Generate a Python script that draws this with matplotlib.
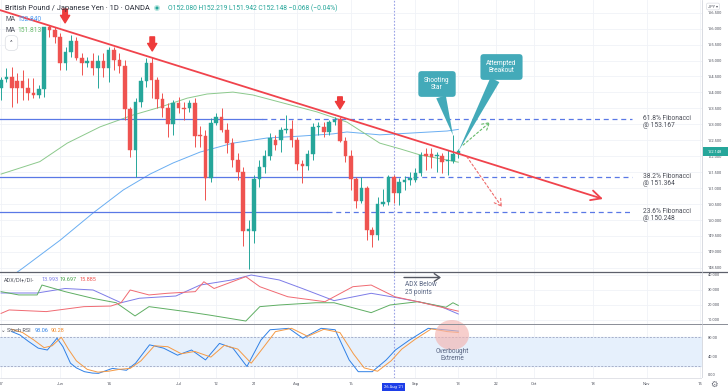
import matplotlib
matplotlib.use('Agg')
import matplotlib.pyplot as plt
import numpy as np
from matplotlib.patches import Rectangle, Ellipse

plt.rcParams['font.family'] = ['Roboto', 'DejaVu Sans']

# ---------------- data ----------------
opens = [154.13, 154.41, 154.49, 154.36, 154.36, 154.15, 153.97, 153.93, 154.11, 156.04,
         155.96, 155.75, 154.91, 155.28, 155.61, 155.09, 154.91, 154.98, 154.76, 154.98,
         154.76, 155.32, 155.02, 154.84, 153.47, 152.20, 153.71, 154.37, 154.91, 154.39,
         153.79, 153.52, 153.00, 153.66, 153.52, 153.50, 153.66, 152.64, 152.64, 151.33,
         153.05, 153.24, 152.82, 152.41, 151.88, 151.52, 149.67, 149.67, 151.28, 151.65,
         152.02, 152.51, 152.51, 152.82, 152.85, 152.51, 151.76, 151.70, 152.06, 152.91,
         152.93, 152.77, 153.06, 153.16, 152.49, 152.01, 151.28, 150.61, 150.99, 149.69,
         149.53, 150.50, 150.58, 151.36, 150.85, 151.20, 151.25, 151.25, 151.48, 152.04,
         152.07, 152.00, 152.01, 151.84, 151.85, 152.080]
highs = [154.49, 154.76, 154.81, 154.60, 154.70, 154.44, 154.44, 154.23, 156.06, 156.11,
         156.06, 155.85, 155.43, 155.80, 155.75, 155.23, 155.12, 155.23, 155.17, 155.23,
         155.43, 155.43, 155.23, 155.02, 153.55, 153.82, 154.49, 155.07, 155.12, 154.49,
         153.97, 153.66, 153.76, 153.87, 153.71, 153.76, 153.82, 152.95, 152.82, 153.19,
         153.35, 153.50, 153.03, 152.56, 152.09, 151.67, 150.00, 151.41, 151.88, 152.20,
         152.72, 152.67, 152.93, 153.30, 153.14, 152.61, 151.88, 152.20, 153.03, 153.08,
         153.08, 153.14, 153.24, 153.24, 152.61, 152.20, 151.36, 151.36, 151.07, 149.79,
         150.73, 150.96, 151.41, 151.41, 151.32, 151.38, 151.50, 151.63, 152.14, 152.26,
         152.25, 152.14, 152.11, 152.20, 152.66, 152.219]
lows = [153.76, 154.33, 153.53, 153.66, 153.76, 153.76, 153.82, 153.82, 153.87, 155.74,
        155.54, 154.70, 154.70, 155.12, 155.02, 154.55, 154.81, 154.55, 154.13, 154.49,
        154.33, 154.70, 154.60, 153.14, 151.99, 151.36, 153.55, 154.18, 153.82, 153.50,
        153.24, 152.61, 152.67, 153.35, 153.14, 153.40, 152.30, 152.30, 150.63, 151.20,
        152.98, 152.77, 152.09, 151.67, 151.25, 149.20, 148.45, 149.27, 151.05, 151.46,
        151.88, 152.20, 152.14, 152.72, 152.30, 151.57, 151.15, 151.57, 151.88, 152.67,
        152.61, 152.67, 152.98, 152.46, 151.83, 150.94, 150.38, 150.52, 149.37, 149.16,
        149.37, 150.44, 150.47, 150.53, 150.47, 150.94, 151.10, 151.20, 151.38, 151.57,
        151.62, 151.52, 151.46, 151.41, 151.79, 151.942]
closes = [154.39, 154.49, 154.15, 154.15, 154.15, 153.97, 153.93, 154.11, 156.04, 155.96,
          155.75, 154.91, 155.28, 155.61, 155.09, 154.91, 154.98, 154.76, 154.98, 154.76,
          155.32, 155.02, 154.84, 153.47, 152.20, 153.71, 154.37, 154.91, 154.39, 153.79,
          153.52, 153.00, 153.66, 153.50, 153.48, 153.66, 152.64, 152.62, 151.33, 153.05,
          153.24, 152.82, 152.41, 151.88, 151.52, 149.67, 149.69, 151.28, 151.65, 152.02,
          152.56, 152.35, 152.82, 152.85, 152.51, 151.76, 151.70, 152.06, 152.91, 152.93,
          152.77, 153.06, 153.14, 152.49, 152.01, 151.28, 150.61, 150.99, 149.69, 149.53,
          150.50, 150.58, 151.36, 150.85, 151.20, 151.25, 151.31, 151.48, 152.04, 152.02,
          151.99, 152.01, 151.83, 151.85, 152.08, 152.148]

# moving averages (bar index, price)
ma_blue_x = [0.8, 4.1, 11.0, 17.1, 22.7, 27.7, 32.0, 37.0, 43.1, 49.4, 55.6, 61.7, 64.3, 70.4, 76.6, 82.9, 85.0]
ma_blue_y = [148.10, 148.50, 149.37, 150.22, 150.94, 151.44, 151.79, 152.13, 152.41, 152.57, 152.63, 152.70,
             152.76, 152.67, 152.73, 152.79, 152.84]
ma_green_x = [0.0, 7.2, 12.3, 18.4, 24.5, 29.6, 34.6, 38.3, 43.1, 46.8, 52.4, 58.7, 64.3, 70.4, 74.2, 77.9, 82.9, 85.0]
ma_green_y = [151.44, 151.83, 152.41, 152.92, 153.29, 153.54, 153.82, 153.95, 154.01, 153.92, 153.67, 153.39,
              153.07, 152.41, 152.23, 152.04, 151.88, 151.813]

# ADX / DI+ / DI-
adx_x = [0, 6.7, 11.9, 17.1, 22.3, 25.7, 32.5, 37.0, 42.9, 46.5, 51.7, 56.0, 61.9, 68.8, 73.2, 77.5, 81.8, 85]
adx_y = [28, 28, 31, 30, 21.5, 24.5, 26, 33.3, 36.7, 40, 36.7, 31, 22.9, 27.8, 25.1, 22.2, 18.9, 13.993]
dim_x = [0, 1.5, 8.4, 15.4, 20.4, 22.3, 24, 27.5, 30.9, 36.1, 37.7, 39.6, 45.5, 48.1, 53.3, 60.2, 65.4, 68.8, 73.2, 77.5, 85]
dim_y = [14.4, 16.7, 15.6, 18.9, 19.3, 21.5, 30, 26.7, 27.8, 28.9, 35.5, 31, 38.9, 32.2, 25.5, 22.2, 32.2, 33.3, 25.5, 22.2, 15.885]
dip_x = [0, 3.3, 6.7, 7.6, 11.9, 17.1, 21.4, 24.9, 27.5, 34.4, 38.7, 45.5, 48.1, 51.7, 58.5, 61.9, 68.8, 72.3, 77.5, 82.7, 84, 85]
dip_y = [28.9, 26.7, 26.7, 33.3, 28.9, 24.4, 21.5, 12.7, 18.9, 15.6, 13.3, 9.3, 18.9, 20, 21.5, 21.5, 14.9, 20, 22.2, 18.5, 21.5, 19.697]

# Stoch RSI
k_x = [2, 3.5, 5, 6.9, 8.6, 10.4, 11.5, 12.9, 14, 15.5, 17, 18.1, 20.7, 23.3, 25, 27.6, 30.2, 32.8, 35.4, 38,
       40.6, 43.1, 45.7, 48.3, 50, 53.5, 56.1, 59.5, 62.1, 64.7, 66.4, 69, 71.6, 73.3, 75.9, 79.4, 82.8, 85]
k_y = [92, 85, 72, 57, 53, 78, 60, 25, 15, 7, 4, 3.5, 14, 10, 25, 64, 57, 42, 53, 32,
       67, 57, 18, 74, 96, 99, 78, 99, 96, 32, 7, 7, 32, 53, 74, 99, 95.6, 93.06]
d_x = [2, 4, 6, 8, 9.5, 11.2, 12.5, 14, 16, 18, 20, 22, 24, 26, 28.5, 31, 33.5, 36, 39, 41.5,
       44, 46.5, 49, 51, 54, 57, 60, 63, 65.5, 67.5, 70, 72.5, 74.5, 77, 80, 83, 85]
d_y = [97, 90, 75, 58, 62, 80, 55, 30, 12, 6, 8, 12, 14, 30, 62, 60, 45, 50, 38, 63,
       55, 25, 62, 92, 99, 82, 97, 90, 45, 15, 8, 30, 55, 76, 98, 92, 90.28]

fib_levels = [153.167, 151.364, 150.248]
fib_names = ['61.8% Fibonacci', '38.2% Fibonacci', '23.6% Fibonacci']
fib_solid_end = [48.5, 70.0, 60.5]
fib_dash_end = 117.3

trend_x = [-0.2, 111.9]
trend_y = [156.58, 150.66]
proj_up_x = [85.9, 90.9]
proj_up_y = [152.35, 153.07]
proj_dn_x = [86.6, 93.1]
proj_dn_y = [151.98, 150.41]
arrow_x = [11.9, 28.1, 63.0]
arrow_top = [156.61, 155.74, 153.86]
arrow_tip = [156.18, 155.30, 153.48]

tick_idx = [0, 11, 20, 33, 40, 47, 55, 65, 77, 85, 92, 99, 110, 120, 130]
tick_lab = ['17', 'Jun', '14', 'Jul', '12', '21', 'Aug', '16', 'Sep', '13', '22', 'Oct', '18', 'Nov', '15']
marked_idx = 73
marked_lab = "26 Aug '21"

# ---------------- figure ----------------
W, H = 728, 391
fig = plt.figure(figsize=(W / 100, H / 100), dpi=100)
fig.patch.set_facecolor('white')


def fx(px):
    return px / W


def fy(py):
    return 1 - py / H


AXR = 702
ax = fig.add_axes([0, fy(271.5), fx(AXR), 271.5 / H])
ax2 = fig.add_axes([0, fy(324), fx(AXR), (324 - 271.5) / H], sharex=ax)
ax3 = fig.add_axes([0, fy(378), fx(AXR), (378 - 324) / H], sharex=ax)

UP = '#26a69a'
DN = '#ef5350'
GRID = '#f0f2f7'
TXT = '#50535e'
TEAL = '#43aab9'

for a in (ax, ax2, ax3):
    for s in a.spines.values():
        s.set_visible(False)
    a.set_facecolor('white')
    for t in tick_idx:
        a.axvline(t, color=GRID, lw=0.6, zorder=0)
    a.axvline(marked_idx, color='#9aa3e6', lw=0.8, ls=(0, (1.5, 1.5)), zorder=1)
    a.yaxis.tick_right()
    a.tick_params(axis='y', length=0, pad=4, labelsize=2.9, labelcolor=TXT)
    a.tick_params(axis='x', length=0)

ax.set_xlim(-0.2, 130.3)
ax.set_ylim(148.386, 156.897)
ax2.set_ylim(7.33, 42.33)
ax3.set_ylim(-6.4, 108.2)

# main grid
yt = np.arange(148.5, 156.51, 0.5)
for v in yt:
    ax.axhline(v, color=GRID, lw=0.6, zorder=0)
ax.set_yticks(yt)
ax.set_yticklabels(['%.3f' % v for v in yt])

# candles
o = np.array(opens); h = np.array(highs); l = np.array(lows); c = np.array(closes)
x = np.arange(len(c))
col = np.where(c >= o, UP, DN)
ax.vlines(x, l, h, colors=col, lw=0.7, zorder=3)
ax.bar(x, np.maximum(np.abs(c - o), 0.035), bottom=np.minimum(o, c), width=0.66,
       color=col, edgecolor=col, lw=0.3, zorder=4)

# MAs
ax.plot(ma_blue_x, ma_blue_y, color='#6aaef2', lw=0.7, zorder=2)
ax.plot(ma_green_x, ma_green_y, color='#8cc98c', lw=0.7, zorder=2)

# fibonacci lines
FIB = '#5a78e6'
for lv, nm, se in zip(fib_levels, fib_names, fib_solid_end):
    ax.plot([-0.2, se], [lv, lv], color=FIB, lw=0.9, zorder=2)
    ax.plot([se, fib_dash_end], [lv, lv], color=FIB, lw=0.9, ls=(0, (4, 3)), zorder=2)
    ax.annotate('%s\n@ %.3f' % (nm, lv), xy=(119.3, lv), xytext=(0, -2.4), textcoords='offset points',
                ha='left', va='center', fontsize=4.8, color='#4a4d57', linespacing=1.0)

# trend line
ax.annotate('', xy=(trend_x[1], trend_y[1]), xytext=(trend_x[0], trend_y[0]),
            arrowprops=dict(arrowstyle='->,head_length=0.9,head_width=0.45', color='#f0434c', lw=1.3,
                            shrinkA=0, shrinkB=0, mutation_scale=8), zorder=5)

# projections
ax.annotate('', xy=(proj_up_x[1], proj_up_y[1]), xytext=(proj_up_x[0], proj_up_y[0]),
            arrowprops=dict(arrowstyle='->,head_length=0.6,head_width=0.35', color='#66bb6a', lw=0.8,
                            ls=(0, (2, 2)), shrinkA=0, shrinkB=0, mutation_scale=8), zorder=5)
ax.annotate('', xy=(proj_dn_x[1], proj_dn_y[1]), xytext=(proj_dn_x[0], proj_dn_y[0]),
            arrowprops=dict(arrowstyle='->,head_length=0.6,head_width=0.35', color='#ef6b6b', lw=0.8,
                            ls=(0, (2, 2)), shrinkA=0, shrinkB=0, mutation_scale=8), zorder=5)

# red down arrows
for ax_, t_, b_ in zip(arrow_x, arrow_top, arrow_tip):
    ax.annotate('', xy=(ax_, b_), xytext=(ax_, t_),
                arrowprops=dict(arrowstyle='simple,head_length=0.9,head_width=1.1,tail_width=0.55',
                                color='#ee3b3b', shrinkA=0, shrinkB=0, mutation_scale=6), zorder=6)

# callouts
ax.annotate('Shooting\nStar', xy=(84, highs[84]), xycoords='data', xytext=(437, H - 84),
            textcoords='figure pixels', ha='center', va='center', fontsize=4.7, color='white',
            linespacing=1.0,
            bbox=dict(boxstyle='round,pad=0.9,rounding_size=0.5', fc=TEAL, ec='none'),
            arrowprops=dict(arrowstyle='wedge,tail_width=0.8,shrink_factor=0.5', fc=TEAL, ec='none',
                            mutation_scale=9, shrinkA=0, shrinkB=0), zorder=7)
ax.annotate('Attempted\nBreakout', xy=(85, closes[85]), xycoords='data', xytext=(501.5, H - 67),
            textcoords='figure pixels', ha='center', va='center', fontsize=4.7, color='white',
            linespacing=1.0,
            bbox=dict(boxstyle='round,pad=0.9,rounding_size=0.5', fc=TEAL, ec='none'),
            arrowprops=dict(arrowstyle='wedge,tail_width=0.8,shrink_factor=0.5', fc=TEAL, ec='none',
                            mutation_scale=9, shrinkA=0, shrinkB=0), zorder=7)

# ADX panel
for v in [10, 20, 30, 40]:
    ax2.axhline(v, color=GRID, lw=0.6, zorder=0)
ax2.set_yticks([10, 20, 30, 40])
ax2.set_yticklabels(['10.000', '20.000', '30.000', '40.000'])
ADXC, DIPC, DIMC = '#7d7ce8', '#5fae63', '#f06a72'
ax2.plot(adx_x, adx_y, color=ADXC, lw=0.7)
ax2.plot(dip_x, dip_y, color=DIPC, lw=0.7)
ax2.plot(dim_x, dim_y, color=DIMC, lw=0.7)

# Stoch panel
ax3.axhspan(20, 80, color='#e6f0fc', zorder=0)
ax3.axhline(80, color='#8f98b8', lw=0.5, ls=(0, (3, 2)))
ax3.axhline(20, color='#8f98b8', lw=0.5, ls=(0, (3, 2)))
ax3.set_yticks([0, 40, 80])
ax3.set_yticklabels(['0.00', '40.00', '80.00'])
KC, DC = '#2f80e6', '#f59a45'
ax3.plot(k_x, k_y, color=KC, lw=0.7, zorder=3)
ax3.plot(d_x, d_y, color=DC, lw=0.7, zorder=3)

ax3.set_xticks(tick_idx)
ax3.set_xticklabels(tick_lab)
ax3.tick_params(axis='x', labelsize=3.0, labelcolor=TXT, pad=3)
plt.setp(ax.get_xticklabels(), visible=False)
plt.setp(ax2.get_xticklabels(), visible=False)
ax3.annotate(marked_lab, xy=(marked_idx, 0), xycoords=('data', 'axes fraction'), xytext=(0, -6.3),
             textcoords='offset points', ha='center', va='center', fontsize=3.0, color='white',
             bbox=dict(boxstyle='square,pad=0.5', fc='#1e3ee8', ec='none'), zorder=10, annotation_clip=False)

# highlight circle
fig.add_artist(Ellipse((fx(452), fy(335)), 34 / W, 30 / H, transform=fig.transFigure,
                       fc='#f3b4b1', ec='none', alpha=0.65, zorder=1))

# panel separators & frame lines
fig.add_artist(plt.Line2D([0, 1], [fy(271.5), fy(271.5)], color='#5d606b', lw=0.9))
fig.add_artist(plt.Line2D([0, 1], [fy(324), fy(324)], color='#8a8d96', lw=0.7))
fig.add_artist(plt.Line2D([0, 1], [fy(378), fy(378)], color='#d6d8de', lw=0.5))
fig.add_artist(plt.Line2D([fx(AXR), fx(AXR)], [0, 1], color='#c9ccd4', lw=0.5))
fig.add_artist(Rectangle((fx(AXR) + 0.0005, 0), 1, fy(378), transform=fig.transFigure,
                         fc='white', ec='none', zorder=5))
fig.text(fx(714), fy(384), '\u2699', fontsize=6, color='#6a6d78', ha='center', va='center', zorder=6,
         family='DejaVu Sans')

# price tag
fig.add_artist(Rectangle((fx(702.5), fy(156)), 25 / W, 9 / H, transform=fig.transFigure,
                         fc=UP, ec='none', zorder=6))
fig.text(fx(715), fy(151.5), '%.3f' % closes[-1], fontsize=2.9, color='white', ha='center',
         va='center', zorder=7)
# currency box
fig.text(fx(713), fy(6.5), 'JPY \u25be', fontsize=2.9, color=TXT, ha='center', va='center', zorder=7,
         family=['Roboto', 'DejaVu Sans'],
         bbox=dict(boxstyle='round,pad=0.35', fc='white', ec='#d0d3da', lw=0.4))

# header texts
fig.text(fx(5), fy(8), 'British Pound / Japanese Yen \u00b7 1D \u00b7 OANDA', fontsize=5.4,
         color='#2a2e39', ha='left', va='center')
fig.add_artist(Ellipse((fx(157), fy(8)), 6 / W, 6 / H, transform=fig.transFigure, fc='#b9e6e0', ec='none'))
fig.add_artist(Ellipse((fx(157), fy(8)), 3 / W, 3 / H, transform=fig.transFigure, fc=UP, ec='none'))
fig.text(fx(168), fy(8), 'O%.3f H%.3f L%.3f C%.3f \u22120.068 (\u22120.04%%)' % (opens[-1], highs[-1], lows[-1], closes[-1]),
         fontsize=4.9, color=UP, ha='left', va='center')
fig.text(fx(5), fy(19.5), 'MA', fontsize=4.8, color=TXT, ha='left', va='center')
fig.text(fx(17), fy(19.5), '%.3f' % ma_blue_y[-1], fontsize=4.8, color='#4e9af1', ha='left', va='center')
fig.text(fx(5), fy(31), 'MA', fontsize=4.8, color=TXT, ha='left', va='center')
fig.text(fx(17), fy(31), '%.3f' % ma_green_y[-1], fontsize=4.8, color='#66b96a', ha='left', va='center')
fig.text(fx(11.5), fy(43), '^', fontsize=4.5, color=TXT, ha='center', va='center',
         bbox=dict(boxstyle='round,pad=0.8', fc='white', ec='#d0d3da', lw=0.4))

# ADX legend
fig.text(fx(4), fy(279.5), 'ADX/DI+/DI-', fontsize=4.0, color=TXT, ha='left', va='center')
fig.text(fx(42), fy(279.5), '%.3f' % adx_y[-1], fontsize=4.0, color=ADXC, ha='left', va='center')
fig.text(fx(60), fy(279.5), '%.3f' % dip_y[-1], fontsize=4.0, color='#43a047', ha='left', va='center')
fig.text(fx(79), fy(279.5), '%.3f' % dim_y[-1], fontsize=4.0, color='#ef5350', ha='left', va='center')
# stoch legend
fig.text(fx(1), fy(331), '\u2304 Stoch RSI', fontsize=4.0, color=TXT, ha='left', va='center',
         family=['Roboto', 'DejaVu Sans'])
fig.text(fx(35), fy(331), '%.2f' % k_y[-1], fontsize=4.0, color=KC, ha='left', va='center')
fig.text(fx(51), fy(331), '%.2f' % d_y[-1], fontsize=4.0, color='#f08a2c', ha='left', va='center')

# ADX annotation
ax2.annotate('', xy=(fx(441), fy(277.5)), xycoords='figure fraction', xytext=(fx(404), fy(277.5)),
             textcoords='figure fraction',
             arrowprops=dict(arrowstyle='->,head_length=0.5,head_width=0.35', color='#555862', lw=1.0,
                             shrinkA=0, shrinkB=0, mutation_scale=8))
fig.text(fx(405), fy(288.5), 'ADX Below\n25 points', fontsize=4.7, color='#5b6784', ha='left', va='center',
         linespacing=1.05)
fig.text(fx(452), fy(355), 'Overbought\nExtreme', fontsize=4.7, color='#5b6784', ha='center', va='center',
         linespacing=1.05)

fig.savefig('out.png', dpi=100, facecolor='white')
